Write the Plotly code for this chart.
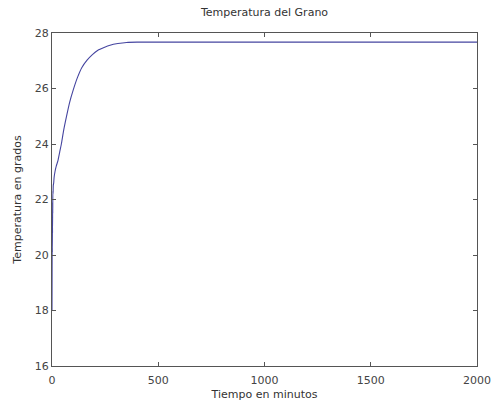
import plotly.graph_objects as go

# Data (time in minutes, temperature in degrees)
tiempo = [0, 0.5, 1, 1.5, 2, 2.5, 3, 3.5, 4, 5, 6, 8, 10, 14, 20, 28, 36, 44, 55, 67, 83, 100, 120, 140, 165, 190, 216, 245, 273, 310, 351, 400, 500, 1000, 1500, 2000]
temperatura = [18.0, 19.6, 20.4, 20.1, 21.2, 20.8, 21.9, 21.5, 22.3, 22.2, 22.5, 22.6, 22.8, 23.0, 23.2, 23.4, 23.7, 24.0, 24.5, 24.95, 25.5, 25.95, 26.4, 26.75, 27.02, 27.22, 27.38, 27.48, 27.56, 27.62, 27.66, 27.67, 27.67, 27.67, 27.67, 27.67]

x_ticks = [0, 500, 1000, 1500, 2000]
y_ticks = [16, 18, 20, 22, 24, 26, 28]

titulo = "Temperatura del Grano"
x_label = "Tiempo en minutos"
y_label = "Temperatura en grados"

FONT = "DejaVu Sans"
fig = go.Figure()
fig.add_trace(go.Scatter(
    x=tiempo, y=temperatura, mode="lines",
    line=dict(color="#4545a0", width=1.1, shape="spline", smoothing=0.6),
    showlegend=False,
))

axis_common = dict(
    showline=True, linecolor="#555555", linewidth=1, mirror="ticks",
    ticks="inside", ticklen=4, tickcolor="#555555",
    showgrid=False, zeroline=False, automargin=False,
    tickfont=dict(family=FONT, size=11, color="#444444"),
)
fig.update_xaxes(range=[0, 2000], tickvals=x_ticks, ticklabelstandoff=4,
                 title=dict(text=x_label, font=dict(family=FONT, size=11, color="#333333"), standoff=4),
                 **axis_common)
fig.update_yaxes(range=[16, 28], tickvals=y_ticks,
                 title=dict(text=y_label, font=dict(family=FONT, size=11, color="#333333"), standoff=10),
                 **axis_common)

fig.update_layout(
    width=492, height=406,
    margin=dict(l=52, r=15, t=33, b=40, autoexpand=False),
    paper_bgcolor="white", plot_bgcolor="white",
    title=dict(text=titulo, x=(52 + 477) / 2 / 492, xanchor="center", y=1 - 12 / 406, yanchor="middle",
               font=dict(family=FONT, size=11, color="#333333")),
)

fig.write_html("out.html")
